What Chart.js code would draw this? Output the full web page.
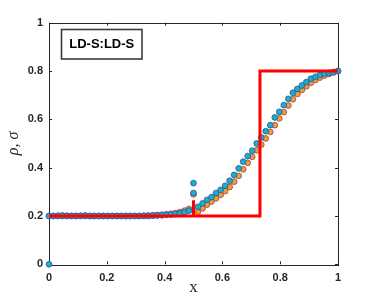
<!DOCTYPE html>
<html>
<head>
<meta charset="utf-8">
<script src="https://cdn.jsdelivr.net/npm/chart.js@4"></script>
<style>
html,body{margin:0;padding:0;background:#fff;}
canvas{display:block;}
</style>
</head>
<body>
<canvas id="c" width="373" height="298"></canvas>
<script>
// ---- data ----
const xTicks = [0, 0.2, 0.4, 0.6, 0.8, 1];
const yTicks = [0, 0.2, 0.4, 0.6, 0.8, 1];
const boxLabel = "LD-S:LD-S";

// rho (cyan) samples
const rhoX = [0, 0,
  0.0156,0.0313,0.0469,0.0625,0.0781,0.0938,0.1094,0.125,0.1406,0.1563,0.1719,0.1875,0.2031,0.2188,0.2344,0.25,
  0.2656,0.2813,0.2969,0.3125,0.3281,0.3438,0.3594,0.375,0.3906,0.4063,0.4219,0.4375,0.4531,0.4688,0.4844,0.5,
  0.5,0.5156,0.5313,0.5469,0.5625,0.5781,0.5938,0.6094,0.625,0.6406,0.6563,0.6719,0.6875,0.7031,0.7188,0.7344,0.75,
  0.7656,0.7813,0.7969,0.8125,0.8281,0.8438,0.8594,0.875,0.8906,0.9063,0.9219,0.9375,0.9531,0.9688,0.9844,1];
const rhoY = [0, 0.2,
  0.2,0.2,0.2,0.2,0.2,0.2,0.2,0.2,0.2,0.2,0.2,0.2,0.2,0.2,0.2,0.2,
  0.2,0.2,0.2,0.2,0.2,0.2,0.201,0.202,0.203,0.205,0.206,0.208,0.211,0.215,0.222,0.295,
  0.336,0.238,0.252,0.267,0.278,0.295,0.308,0.325,0.346,0.370,0.397,0.425,0.448,0.470,0.500,0.525,0.551,
  0.576,0.608,0.631,0.659,0.685,0.710,0.726,0.740,0.754,0.768,0.776,0.784,0.789,0.792,0.796,0.800];

// sigma (orange) samples
const sigX = [0,
  0.0156,0.0313,0.0469,0.0625,0.0781,0.0938,0.1094,0.125,0.1406,0.1563,0.1719,0.1875,0.2031,0.2188,0.2344,0.25,
  0.2656,0.2813,0.2969,0.3125,0.3281,0.3438,0.3594,0.375,0.3906,0.4063,0.4219,0.4375,0.4531,0.4688,0.4844,0.5,
  0.5156,0.5313,0.5469,0.5625,0.5781,0.5938,0.6094,0.625,0.6406,0.6563,0.6719,0.6875,0.7031,0.7188,0.7344,0.75,
  0.7656,0.7813,0.7969,0.8125,0.8281,0.8438,0.8594,0.875,0.8906,0.9063,0.9219,0.9375,0.9531,0.9688,0.9844,1];
const sigY = [0.2,
  0.2,0.201,0.202,0.201,0.2,0.2,0.201,0.202,0.2,0.2,0.2,0.2,0.2,0.2,0.2,0.2,
  0.2,0.2,0.2,0.2,0.201,0.202,0.203,0.204,0.205,0.207,0.209,0.212,0.216,0.222,0.229,0.29,
  0.218,0.232,0.247,0.260,0.273,0.288,0.303,0.320,0.342,0.366,0.393,0.420,0.445,0.472,0.495,0.521,
  0.548,0.576,0.604,0.630,0.657,0.683,0.705,0.722,0.737,0.752,0.763,0.773,0.781,0.788,0.794,0.800];

// exact solution (red)
const exX = [0, 0.5, 0.5, 0.5, 0.73, 0.73, 1];
const exY = [0.2, 0.2, 0.265, 0.2, 0.2, 0.8, 0.8];

const pts = (xs, ys) => xs.map((x, i) => ({x: x, y: ys[i]}));

const frame = {
  id: 'frame',
  beforeDatasetsDraw(chart) {
    const ctx = chart.ctx, a = chart.chartArea;
    const xs = chart.scales.x, ys = chart.scales.y;
    ctx.save();
    ctx.strokeStyle = '#262626';
    ctx.lineWidth = 1;
    ctx.strokeRect(Math.round(a.left) + 0.5, Math.round(a.top) + 0.5,
      Math.round(a.right - a.left), Math.round(a.bottom - a.top));
    const tl = 3;
    ctx.beginPath();
    xTicks.forEach(v => {
      const p = Math.round(xs.getPixelForValue(v)) + 0.5;
      ctx.moveTo(p, a.bottom); ctx.lineTo(p, a.bottom - tl);
      ctx.moveTo(p, a.top); ctx.lineTo(p, a.top + tl);
    });
    yTicks.forEach(v => {
      const p = Math.round(ys.getPixelForValue(v)) + 0.5;
      ctx.moveTo(a.left, p); ctx.lineTo(a.left + tl, p);
      ctx.moveTo(a.right, p); ctx.lineTo(a.right - tl, p);
    });
    ctx.stroke();
    // label box
    ctx.lineWidth = 1.6;
    ctx.strokeStyle = '#3c3c3c';
    ctx.strokeRect(61.5, 29.5, 80.5, 29.5);
    ctx.fillStyle = '#000';
    ctx.font = 'bold 13px "Liberation Sans", Arial, sans-serif';
    ctx.textAlign = 'center';
    ctx.textBaseline = 'middle';
    ctx.fillText(boxLabel, 101.75, 44.5);
    ctx.restore();
  }
};

const tickFont = {family: '"Liberation Sans", Arial, sans-serif', size: 11, weight: 'bold'};

new Chart(document.getElementById('c'), {
  type: 'scatter',
  data: {
    datasets: [
      {
        label: 'exact', data: pts(exX, exY), showLine: true,
        borderColor: '#ff0000', borderWidth: 3, pointRadius: 0, fill: false, tension: 0
      },
      {
        label: 'rho', data: pts(rhoX, rhoY), clip: false,
        backgroundColor: '#17b0c4', borderColor: '#3a4fa0', borderWidth: 0.8, pointRadius: 2.9
      },
      {
        label: 'sigma', data: pts(sigX, sigY), clip: false,
        backgroundColor: '#eaa327', borderColor: '#9a3a6a', borderWidth: 0.8, pointRadius: 2.9
      }
    ]
  },
  options: {
    responsive: false,
    animation: false,
    events: [],
    layout: {padding: {top: 22.7, right: 35, left: 0, bottom: 0}},
    plugins: {legend: {display: false}, tooltip: {enabled: false}},
    scales: {
      x: {
        type: 'linear', min: 0, max: 1,
        afterFit: s => { s.height = 33.7; },
        afterBuildTicks: s => { s.ticks = xTicks.map(v => ({value: v})); },
        grid: {display: false, drawTicks: false},
        border: {display: false},
        ticks: {font: tickFont, color: '#262626', padding: 7, maxRotation: 0, callback: v => String(v)},
        title: {display: true, text: 'x', font: {family: '"Liberation Serif", "Times New Roman", serif', size: 17}, color: '#262626', padding: {top: -5, bottom: 0}}
      },
      y: {
        type: 'linear', min: 0, max: 1,
        afterFit: s => { s.width = 49; },
        afterBuildTicks: s => { s.ticks = yTicks.map(v => ({value: v})); },
        grid: {display: false, drawTicks: false},
        border: {display: false},
        ticks: {font: tickFont, color: '#262626', padding: 6, callback: v => String(v)},
        title: {display: true, text: 'ρ, σ', font: {family: '"Liberation Serif", "Times New Roman", serif', size: 16, style: 'italic'}, color: '#262626', padding: {top: 4, bottom: 0}}
      }
    }
  },
  plugins: [frame]
});
</script>
</body>
</html>
